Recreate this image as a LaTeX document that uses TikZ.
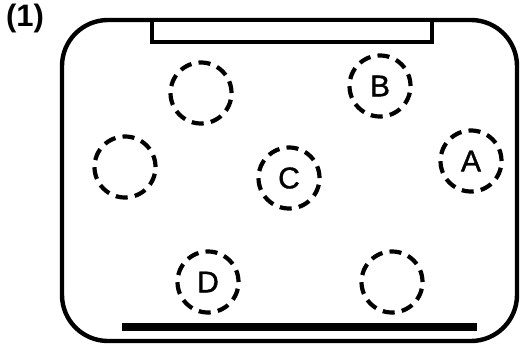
\documentclass[tikz,border=0pt]{standalone}
\usepackage{fontspec}
\setmainfont{Liberation Sans}
\newfontfamily\wellfont[FakeBold=1.2]{Liberation Sans}
\begin{document}
\begin{tikzpicture}[x=1pt,y=-1pt,
  well/.style={circle,draw=black,line width=4.2pt,minimum size=61pt,inner sep=0pt,
    dash pattern=on 12pt off 7.2pt,font=\wellfont\fontsize{30}{30}\selectfont},
  frame/.style={draw=black,line width=4.4pt,rounded corners=46pt},
  plate/.style={draw=black,line width=3.8pt,fill=white},
  bar/.style={draw=black,line width=7.5pt}]
\useasboundingbox (0,0) rectangle (522,348);
\node[font=\bfseries\fontsize{31}{31}\selectfont] (lbl) at (25,18) {(1)};
\draw[frame] (62,20) rectangle (517,341);
\draw[plate] (152,20) rectangle (432,42);
\coordinate (barL) at (122,327);
\coordinate (barR) at (477,327);
\draw[bar] (barL) -- (barR);
\node[well] (w1) at (201,93) {};
\node[well] (wB) at (380,86) {B};
\node[well] (w2) at (125,167) {};
\node[well] (wC) at (289,178) {C};
\node[well] (wA) at (471,161) {A};
\node[well] (wD) at (208,282) {D};
\node[well] (w3) at (392,282) {};
\end{tikzpicture}
\end{document}
